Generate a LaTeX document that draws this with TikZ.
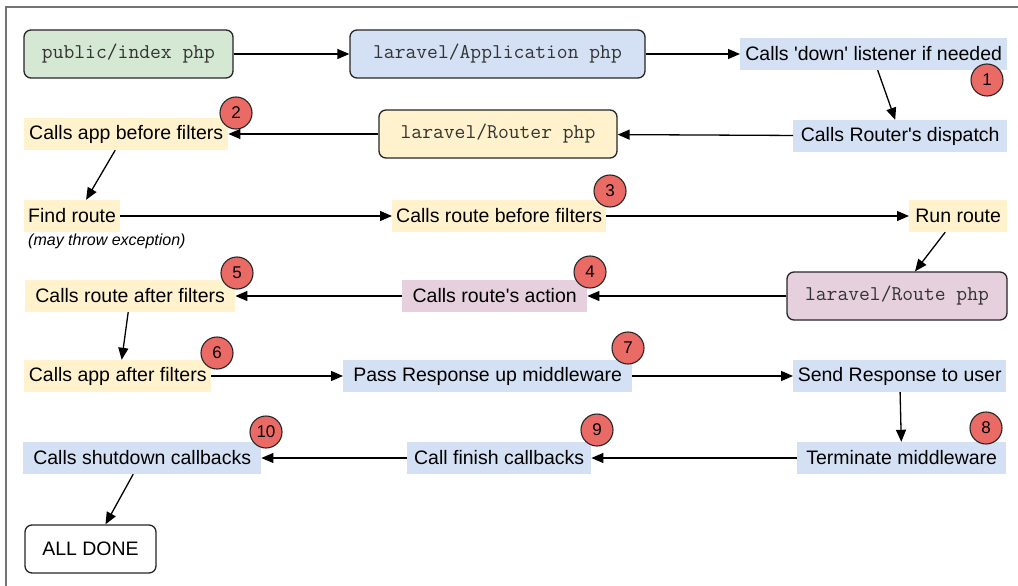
\documentclass[tikz,border=0pt]{standalone}
\usepackage{fontspec}
\usepackage{tikz}
\usetikzlibrary{arrows.meta}
\usetikzlibrary{calc}
\newfontfamily\labelfont{Liberation Sans}
\definecolor{stepblue}{HTML}{D4E1F4}
\definecolor{stepyellow}{HTML}{FFF2CC}
\definecolor{steppink}{HTML}{E6D0DE}
\definecolor{stepgreen}{HTML}{D5E8D4}
\definecolor{badgered}{HTML}{EA6B66}
\tikzset{
  stepbox/.style={fill=#1, anchor=west, inner xsep=4pt, minimum height=32pt,
    font=\labelfont\fontsize{19.5}{22}\selectfont},
  filebox/.style={draw=black!85, fill=#1, rounded corners=7pt, line width=1.3pt,
    minimum height=48pt, text=black!80, font=\ttfamily\fontsize{21}{24}\selectfont},
  badge/.style={circle, draw=black!85, fill=badgered, line width=1.1pt,
    minimum size=32pt, inner sep=0pt, font=\labelfont\fontsize{17}{19}\selectfont},
  flow/.style={line width=1.3pt, -{Triangle[length=12pt,width=10pt]}}
}

\begin{document}
\begin{tikzpicture}[x=1pt,y=-1pt]
\useasboundingbox (0,0) rectangle (1018,586);
\draw[black!55, line width=1.2pt] (1018,7) -- (6,7) -- (6,586);

\node[filebox=stepgreen, minimum width=209pt] (index) at (128.5,54) {public/index php};
\node[filebox=stepblue, minimum width=295pt] (app) at (497.5,54) {laravel/Application php};
\node[stepbox=stepblue, minimum width=267pt] (down) at (740,54) {Calls 'down' listener if needed};

\node[stepbox=stepyellow, minimum width=204pt] (appbefore) at (24,134) {Calls app before filters};
\node[filebox=stepyellow, minimum width=238pt] (router) at (498,134) {laravel/Router php};
\node[stepbox=stepblue, minimum width=214pt] (dispatch) at (793,136) {Calls Router's dispatch};

\node[stepbox=stepyellow, minimum width=94pt] (findroute) at (24,216) {Find route};
\node[anchor=west, inner sep=0pt, font=\labelfont\itshape\fontsize{16}{18}\selectfont] (throws) at (28,241) {(may throw exception)};
\node[stepbox=stepyellow, minimum width=212pt] (routebefore) at (392,216) {Calls route before filters};
\node[stepbox=stepyellow, minimum width=98pt] (runroute) at (909,216) {Run route};

\node[stepbox=stepyellow, minimum width=210pt] (routeafter) at (25,296) {Calls route after filters};
\node[stepbox=steppink, minimum width=185pt] (action) at (402,296) {Calls route's action};
\node[filebox=steppink, minimum width=220pt] (route) at (897,296) {laravel/Route php};

\node[stepbox=stepyellow, minimum width=187pt] (appafter) at (24,376) {Calls app after filters};
\node[stepbox=stepblue, minimum width=289pt] (passresp) at (343,376) {Pass Response up middleware};
\node[stepbox=stepblue, minimum width=213pt] (sendresp) at (793,376) {Send Response to user};

\node[stepbox=stepblue, minimum width=238pt] (shutdown) at (23,458) {Calls shutdown callbacks};
\node[stepbox=stepblue, minimum width=184pt] (finish) at (407,458) {Call finish callbacks};
\node[stepbox=stepblue, minimum width=209pt] (terminate) at (797,458) {Terminate middleware};

\node[filebox=white, text=black, font=\labelfont\fontsize{19.5}{22}\selectfont,
  minimum width=131pt] (done) at (90.5,549) {ALL DONE\hspace{10pt}};

\foreach \n/\x/\y in {1/987/80, 2/236/113, 3/610/191, 4/590/272, 5/237/273,
                      6/217/353, 7/628/348, 8/986/428, 9/597/430, 10/266/432}
  \node[badge] (badge\n) at (\x,\y) {\n};

\draw[flow] (index) -- (app);
\draw[flow] (app) -- (down);
\draw[flow] ([xshift=4pt]down.south) -- ([xshift=-5pt]dispatch.north);
\draw[flow] (dispatch) -- (router);
\draw[flow] (router) -- (appbefore);
\draw[flow] ([xshift=-11pt]appbefore.south) -- ([xshift=14pt]findroute.north);
\draw[flow] (findroute) -- (routebefore);
\draw[flow] (routebefore) -- (runroute);
\draw[flow] ([xshift=-13pt]runroute.south) -- ([xshift=18pt]route.north);
\draw[flow] (route) -- (action);
\draw[flow] (action) -- (routeafter);
\draw[flow] ([xshift=-2pt]routeafter.south) -- ([xshift=4pt]appafter.north);
\draw[flow] (appafter) -- (passresp);
\draw[flow] (passresp) -- (sendresp);
\draw[flow] (sendresp) -- (terminate);
\draw[flow] (terminate) -- (finish);
\draw[flow] (finish) -- (shutdown);
\draw[flow] ([xshift=-9pt]shutdown.south) -- ([xshift=15pt]done.north);
\end{tikzpicture}
\end{document}
